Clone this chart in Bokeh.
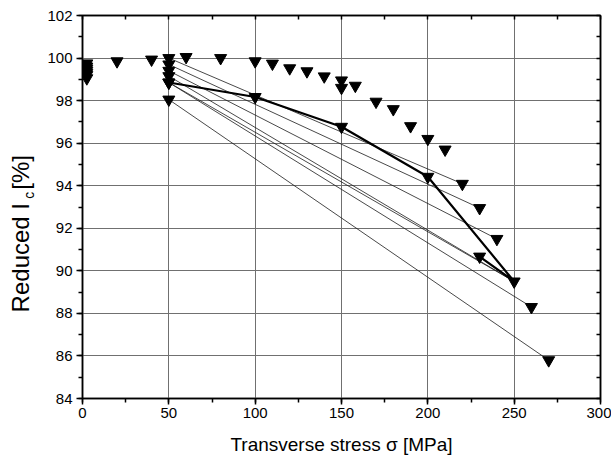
from bokeh.plotting import figure
from bokeh.models import Range1d, LinearAxis, SingleIntervalTicker, FixedTicker, ColumnDataSource
from bokeh.embed import file_html
from bokeh.resources import INLINE

# ---- data ----
upper_x = [2.5, 2.5, 2.5, 2.5, 2.5, 2.5, 2.5, 20, 40, 60, 80, 100, 110, 120, 130,
           140, 150, 150, 158, 170, 180, 190, 200, 210, 220, 230, 240, 260, 270]
upper_y = [99.75, 99.6, 99.5, 99.4, 99.3, 99.2, 99.05, 99.85, 99.93, 100.05, 100.0,
           99.85, 99.74, 99.52, 99.38, 99.14, 98.95, 98.6, 98.7, 97.95, 97.6, 96.8,
           96.2, 95.7, 94.09, 92.95, 91.5, 88.3, 85.8]

start_x = [50, 50, 50, 50, 50, 50]
start_y = [100.0, 99.7, 99.4, 99.15, 98.85, 98.05]

thick_x = [50, 100, 150, 200, 250, 230]
thick_y = [98.85, 98.17, 96.77, 94.42, 89.5, 90.67]

thin_x0 = [50, 50, 50, 50, 50, 50, 50]
thin_y0 = [100.0, 99.7, 99.4, 99.15, 98.85, 98.85, 98.05]
thin_x1 = [220, 230, 240, 250, 250, 260, 270]
thin_y1 = [94.09, 92.95, 91.5, 89.5, 89.5, 88.3, 85.8]

x_minor_positions = [0, 25, 50, 75, 100, 125, 150, 175, 200, 225, 250, 275, 300]
y_minor_positions = [84, 85, 86, 87, 88, 89, 90, 91, 92, 93, 94, 95, 96, 97, 98, 99,
                     100, 101, 102]

x_title = "Transverse stress \u03c3 [MPa]"
y_title_main = "Reduced I\u00a0\u00a0[%]" + "\u00a0" * 8
y_title_sub = "\u00a0" * 6 + "c"

FONT = "Liberation Sans"

p = figure(width=611, height=459, output_backend="svg", toolbar_location=None,
           x_range=Range1d(0, 300), y_range=Range1d(84, 102),
           min_border_left=82, min_border_right=11, min_border_top=15,
           min_border_bottom=61, background_fill_color="white",
           border_fill_color="white")

xt = SingleIntervalTicker(interval=50, num_minor_ticks=2)
yt = SingleIntervalTicker(interval=2, num_minor_ticks=2)

for ax, t in ((p.xaxis[0], xt), (p.yaxis[0], yt)):
    ax.ticker = t
    ax.axis_line_color = "black"
    ax.axis_line_width = 1.5
    ax.major_tick_line_color = "black"
    ax.minor_tick_line_color = "black"
    ax.major_tick_line_width = 1.5
    ax.minor_tick_line_width = 1.5
    ax.major_tick_out = 6
    ax.major_tick_in = 0
    ax.minor_tick_out = 4
    ax.minor_tick_in = 0
    ax.major_label_text_font = FONT
    ax.major_label_text_font_size = "15px"
    ax.major_label_text_color = "black"
p.xaxis.major_label_standoff = 3
p.yaxis.major_label_standoff = 4

p.xaxis.axis_label = x_title
p.xaxis.axis_label_text_font = FONT
p.xaxis.axis_label_text_font_size = "19px"
p.xaxis.axis_label_text_font_style = "normal"
p.xaxis.axis_label_text_color = "black"
p.xaxis.axis_label_standoff = 13

# inward ticks on top and right (no labels)
for side, pos in (("above", x_minor_positions), ("right", y_minor_positions)):
    ax = LinearAxis(ticker=FixedTicker(ticks=[], minor_ticks=pos),
                    axis_line_color="black", axis_line_width=1.5,
                    minor_tick_in=4, minor_tick_out=0, minor_tick_line_width=1.5,
                    major_tick_in=0, major_tick_out=0)
    p.add_layout(ax, side)

# y title built from two label-only axes (main text + subscript)
sub_axis = LinearAxis(ticker=FixedTicker(ticks=[], minor_ticks=[]), axis_line_color=None,
                      major_tick_out=0, minor_tick_out=0, major_tick_in=0, minor_tick_in=0,
                      axis_label=y_title_sub, axis_label_text_font=FONT,
                      axis_label_text_font_size="14px", axis_label_text_font_style="normal",
                      axis_label_text_color="black", axis_label_standoff=8)
p.add_layout(sub_axis, "left")
main_axis = LinearAxis(ticker=FixedTicker(ticks=[], minor_ticks=[]), axis_line_color=None,
                       major_tick_out=0, minor_tick_out=0, major_tick_in=0, minor_tick_in=0,
                       axis_label=y_title_main, axis_label_text_font=FONT,
                       axis_label_text_font_size="24px", axis_label_text_font_style="normal",
                       axis_label_text_color="black", axis_label_standoff=-16)
p.add_layout(main_axis, "left")

p.xgrid.ticker = xt
p.ygrid.ticker = yt
p.xgrid.grid_line_color = "#707070"
p.ygrid.grid_line_color = "#707070"
p.xgrid.grid_line_width = 1
p.ygrid.grid_line_width = 1
p.outline_line_color = "black"
p.outline_line_width = 1.5

src = ColumnDataSource(dict(x0=thin_x0, y0=thin_y0, x1=thin_x1, y1=thin_y1))
p.segment(x0="x0", y0="y0", x1="x1", y1="y1", source=src, line_color="#1a1a1a", line_width=0.8)
p.line(thick_x, thick_y, line_color="black", line_width=2.2)

p.scatter(upper_x, upper_y, marker="inverted_triangle", size=12, color="black")
p.scatter(start_x, start_y, marker="inverted_triangle", size=12, color="black")
p.scatter(thick_x, thick_y, marker="inverted_triangle", size=12, color="black")

open("out.html", "w").write(file_html(p, INLINE))
